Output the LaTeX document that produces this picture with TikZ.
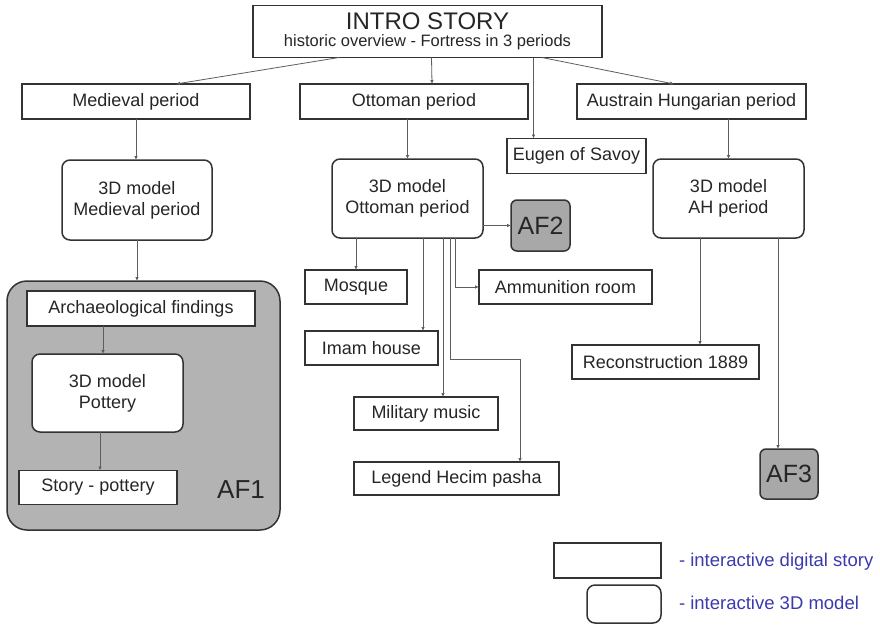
\documentclass[tikz,border=0pt]{standalone}
\usepackage{fontspec}
\setmainfont{Liberation Sans}
\usetikzlibrary{arrows.meta}

\definecolor{boxline}{HTML}{333333}
\definecolor{linkgray}{HTML}{5E5E5E}
\definecolor{afgray}{HTML}{B3B3B3}
\definecolor{afdark}{HTML}{A8A8A8}
\definecolor{keyblue}{HTML}{3B3BB0}

\begin{document}
\begin{tikzpicture}[
  x=1pt, y=-1pt,
  every node/.style={
    inner sep=0pt,
    outer sep=0pt,
    text=black!85
  },
  story/.style={
    draw=boxline,
    line width=1.5pt,
    fill=white,
    minimum height=35pt,
    font=\fontsize{18}{21}\selectfont
  },
  model/.style={
    story,
    rounded corners=8pt,
    align=center
  },
  af/.style={
    draw=boxline,
    line width=1.5pt,
    fill=afdark,
    rounded corners=6pt,
    font=\fontsize{25}{28}\selectfont
  },
  arr/.style={
    -{Latex[length=4pt,width=3.5pt]},
    draw=linkgray,
    line width=0.8pt
  }
]

% Page
\fill[white] (0,0) rectangle (880,624);
\useasboundingbox (0,0) rectangle (880,624);

% Top
\node [story, minimum width=349pt, minimum height=52pt, align=center] (intro) at (427.5,31.5)
  {{\fontsize{24}{24}\selectfont INTRO STORY}\\[-4pt]{\fontsize{16.5}{18}\selectfont historic overview - Fortress in 3 periods}};

% Periods
\node [story, minimum width=228pt] (medieval) at (136,101.5) {Medieval period};
\node [story, minimum width=228pt] (ottoman) at (414,101.5) {Ottoman period};
\node [story, minimum width=229pt] (austro) at (691.5,101.5) {Austrain Hungarian period};
\node [story, minimum width=139pt] (eugen) at (576.5,156) {Eugen of Savoy};

% 3D models
\node [model, minimum width=150pt, minimum height=80pt] (med3d) at (137,200) {3D model\\Medieval period};
\node [model, minimum width=151pt, minimum height=79pt] (ott3d) at (407.5,198.5) {3D model\\Ottoman period};
\node [model, minimum width=151pt, minimum height=79pt] (ah3d) at (728.5,198.5) {3D model\\AH period};

% AF1 group
\node [draw=boxline, line width=1.5pt, fill=afgray, rounded corners=20pt,
       minimum width=273pt, minimum height=249pt] (af1) at (143.5,405.5) {};
\node [font=\fontsize{26}{26}\selectfont] (af1label) at (241,490) {AF1};
\node [story, minimum width=228pt] (arch) at (141,308.5) {Archaeological findings};
\node [model, minimum width=151pt, minimum height=78pt] (pottery) at (107.5,393) {3D model\\Pottery};
\node [story, minimum width=158pt, minimum height=34pt] (storyp) at (98,487.5) {Story - pottery};

% Ottoman stories
\node [af, minimum width=59pt, minimum height=51pt] (af2) at (540.5,225.5) {AF2};
\node [story, minimum width=102pt, minimum height=34pt] (mosque) at (356,287) {Mosque};
\node [story, minimum width=173pt, minimum height=34pt] (ammo) at (565.5,287) {Ammunition room};
\node [story, minimum width=133pt, minimum height=34pt] (imam) at (371.5,348) {Imam house};
\node [story, minimum width=144pt, minimum height=33pt] (music) at (426,413.5) {Military music};
\node [story, minimum width=205pt, minimum height=33pt] (hecim) at (456.5,478.5) {Legend Hecim pasha};

% AH stories
\node [story, minimum width=187pt, minimum height=34pt] (recon) at (665.5,362) {Reconstruction 1889};
\node [af, minimum width=58pt, minimum height=50pt] (af3) at (789,474) {AF3};

% Key
\node [story, minimum width=107pt] (keystory) at (607.5,560.5) {};
\node [model, minimum width=74pt, minimum height=38pt] (keymodel) at (624,604) {};
\node [anchor=west, text=keyblue, font=\fontsize{18.5}{21}\selectfont] (keystorytext) at (679,562) {- interactive digital story};
\node [anchor=west, text=keyblue, font=\fontsize{18.5}{21}\selectfont] (keymodeltext) at (679,603) {- interactive 3D model};

% Links from the top
\draw [arr] ([xshift=-88.5pt]intro.south) -- ([xshift=40pt]medieval.north);
\draw [arr] ([xshift=4pt]intro.south) -- ([xshift=18pt]ottoman.north);
\draw [arr] ([xshift=106pt]intro.south) -- ([xshift=-43pt]eugen.north);
\draw [arr] ([xshift=114.5pt]intro.south) -- ([xshift=-17.5pt]austro.north);

% Periods to models
\draw [arr] (medieval.south) -- (medieval.south |- med3d.north);
\draw [arr] (ott3d.north |- ottoman.south) -- (ott3d.north);
\draw [arr] (ah3d.north |- austro.south) -- (ah3d.north);

% Medieval branch
\draw [arr] (med3d.south) -- (med3d.south |- af1.north);
\draw [arr] ([xshift=-38pt]arch.south) -- ([xshift=-4.5pt]pottery.north);
\draw [arr] ([xshift=-7.5pt]pottery.south) -- ([xshift=2pt]storyp.north);

% Ottoman branch
\draw [arr] (ott3d.east |- af2.west) -- (af2.west);
\draw [arr] (mosque.north |- ott3d.south) -- (mosque.north);
\draw [arr] ([xshift=15.5pt]ott3d.south) -- ([xshift=51.5pt]imam.north);
\draw [arr] ([xshift=35.5pt]ott3d.south) -- ([xshift=17pt]music.north);
\draw [arr] ([xshift=42.5pt]ott3d.south) -- ++(0,121) -| ([xshift=63.5pt]hecim.north);
\draw [arr] ([xshift=47.5pt]ott3d.south) |- (ammo.west);

% AH branch
\draw [arr] ([xshift=-28.5pt]ah3d.south) -- ([xshift=34.5pt]recon.north);
\draw [arr] ([xshift=49.5pt]ah3d.south) -- ([xshift=-11pt]af3.north);

\end{tikzpicture}
\end{document}
